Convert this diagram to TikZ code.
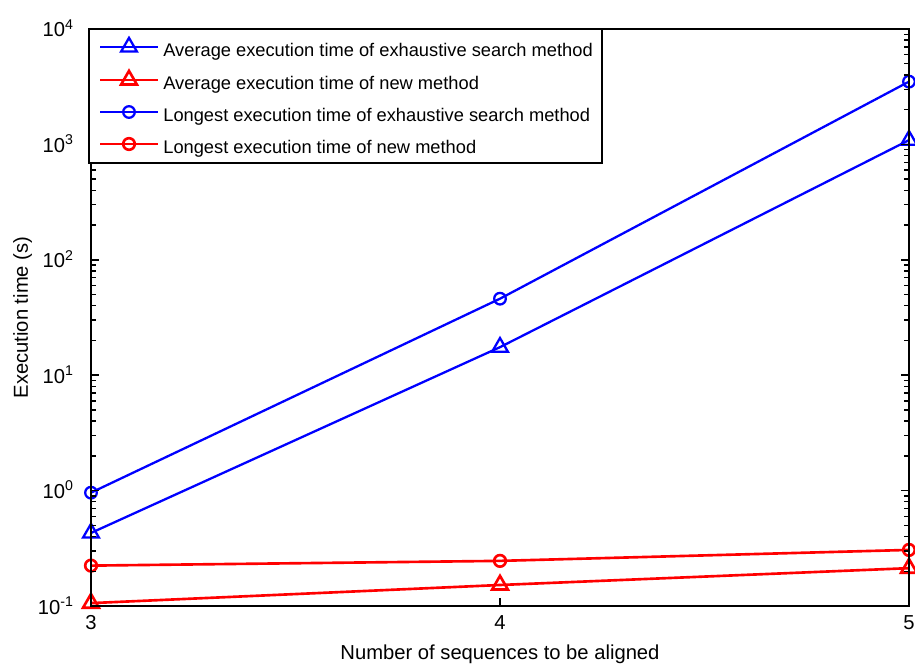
\documentclass[tikz,border=0pt]{standalone}
\usepackage{fontspec}
\setmainfont{Liberation Sans}
\usetikzlibrary{plotmarks}

\begin{document}
\begin{tikzpicture}[font=\fontsize{11.5}{14}\selectfont,
  exhaustive/.style={blue, line width=1.3pt},
  newmeth/.style={red, line width=1.5pt},
  avgmark/.style={mark=triangle, mark size=5.2pt},
  longmark/.style={mark=o, mark size=3.3pt},
  axisline/.style={black, line width=0.8pt}]

\useasboundingbox (0,0) rectangle (18.3,13.3);

\begin{scope}[shift={(-22.72cm,3.488cm)}, x=8.18cm, y=2.308cm]

% y values are log10 of the time in seconds
\draw [exhaustive, avgmark] plot coordinates {(3,-0.367) (4,1.243) (5,3.037)};
\draw [newmeth, avgmark] plot coordinates {(3,-0.975) (4,-0.818) (5,-0.672)};
\draw [exhaustive, longmark] plot coordinates {(3,-0.018) (4,1.663) (5,3.544)};
\draw [newmeth, longmark] plot coordinates {(3,-0.650) (4,-0.609) (5,-0.514)};

% box, ticks and tick labels
\draw [axisline] (3,-1) rectangle (5,4);
\foreach \k in {-1,...,4} {
  \draw [axisline] (3,\k) -- ++(0.16cm,0);
  \draw [axisline] (5,\k) -- ++(-0.16cm,0);
  \node [anchor=base east] (ylab\k) at ([shift={(-0.22cm,-0.16cm)}]3,\k) {10\textsuperscript{\k}};
}
\foreach \k in {-1,...,3}
  \foreach \m in {2,...,9} {
    \draw [axisline] (3,{\k+log10(\m)}) -- ++(0.1cm,0);
    \draw [axisline] (5,{\k+log10(\m)}) -- ++(-0.1cm,0);
  }
\foreach \n in {3,4,5} {
  \draw [axisline] (\n,-1) -- ++(0,0.16cm);
  \draw [axisline] (\n,4) -- ++(0,-0.16cm);
  \node [anchor=north, inner sep=0pt] (xlab\n) at ([yshift=-0.18cm]\n,-1) {\n};
}

\node [anchor=base] (xtitle) at ([yshift=-1.06cm]4,-1) {Number of sequences to be aligned};
\node [rotate=90, anchor=base] (ytitle) at ([xshift=-1.26cm]3,1.5) {Execution time (s)};

\end{scope}

% legend
\draw [axisline, fill=white] (1.78,10.04) rectangle (12.04,12.72);
\foreach \sty/\mk/\y/\txt [count=\i] in {
    exhaustive/avgmark/12.36/Average execution time of exhaustive search method,
    newmeth/avgmark/11.70/Average execution time of new method,
    exhaustive/longmark/11.06/Longest execution time of exhaustive search method,
    newmeth/longmark/10.42/Longest execution time of new method} {
  \draw [\sty, \mk, mark indices={2}] plot coordinates {(2.0,\y) (2.58,\y) (3.16,\y)};
  \node [anchor=base west, inner sep=0pt, font=\fontsize{10.4}{12}\selectfont] (leg\i) at (3.26,\y-0.2) {\txt};
}

\end{tikzpicture}
\end{document}
